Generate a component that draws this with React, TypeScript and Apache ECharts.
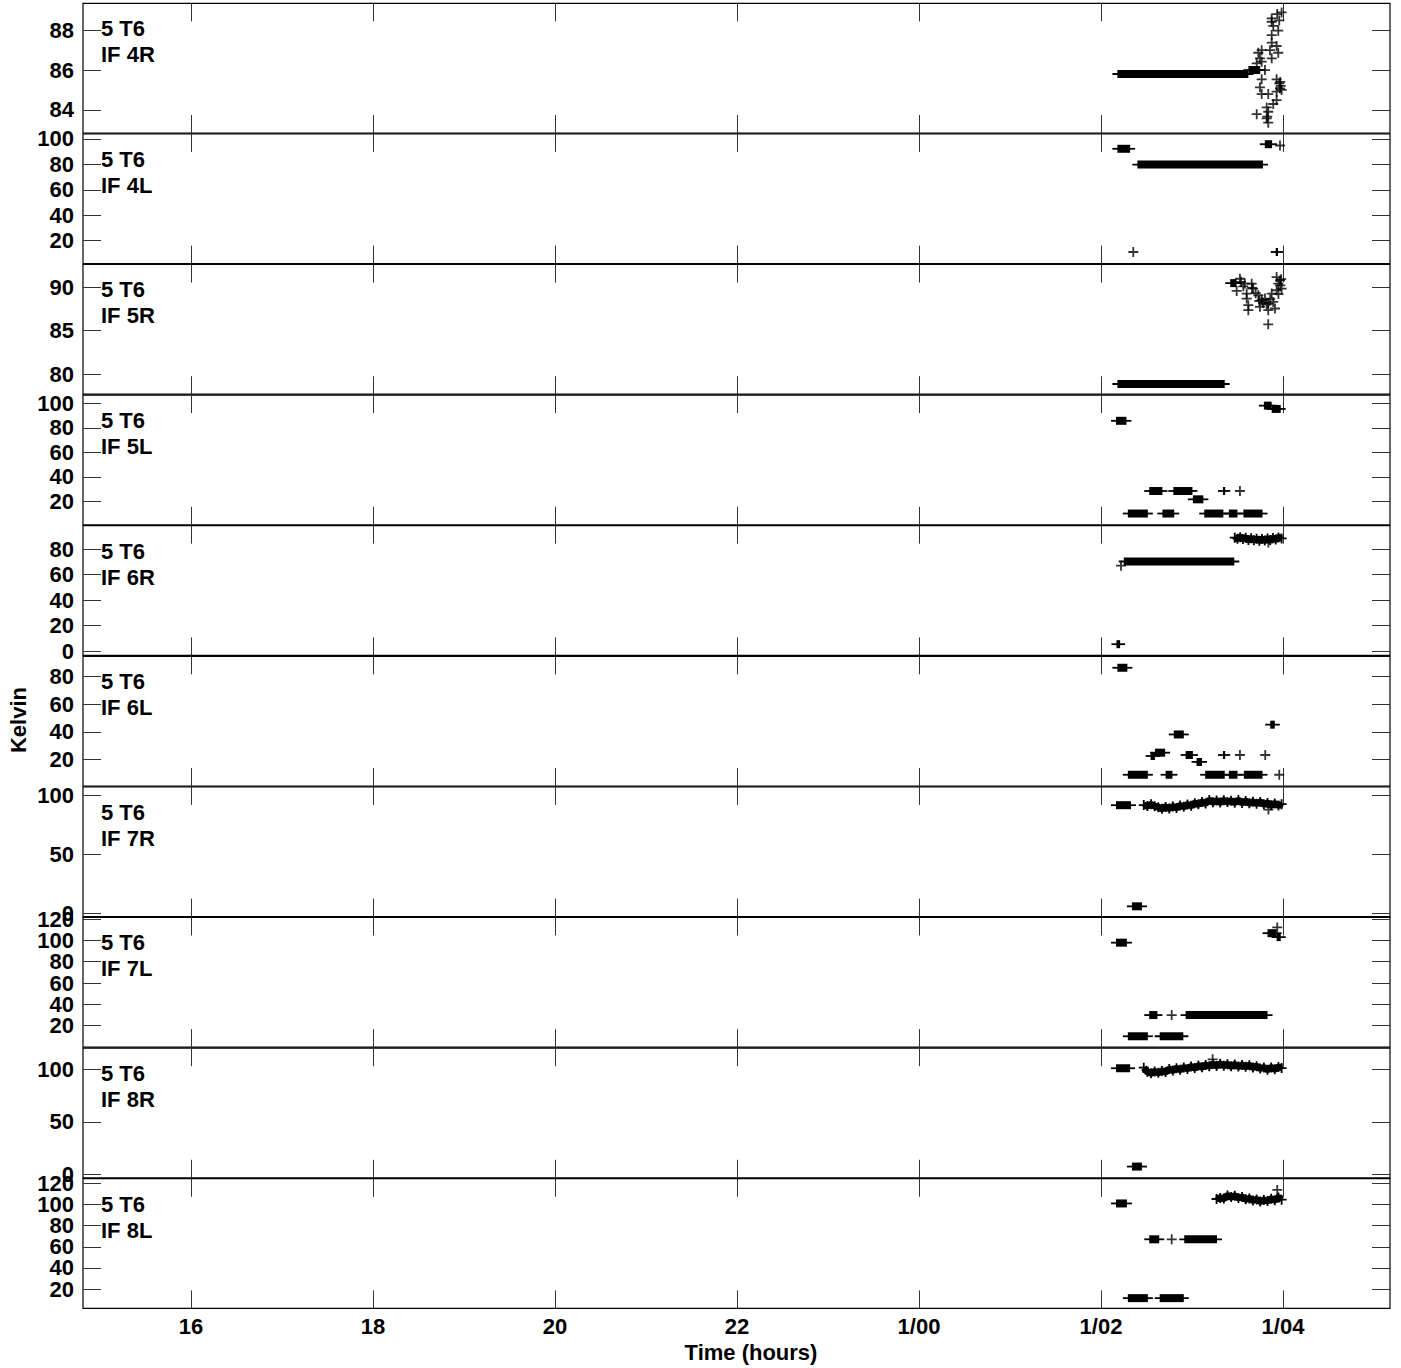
import { useEffect, useRef } from "react";
import * as echarts from "echarts";

// Time axis (hours, past 24 shown as day 1)
const timeRange = [14.813, 29.176];
const timeTicks = [16, 18, 20, 22, 24, 26, 28];
const station = "5 T6";

// runs = [start hour, end hour, kelvin]; points = [hour, kelvin]; trace = noisy run samples
const if4rRange = [82.83, 89.36];
const if4rTicks = [84, 86, 88];
const if4rRuns = [
  [26.18, 27.62, 85.8],
  [27.62, 27.75, 86.0],
];
const if4rPoints = [
  [27.937, 88.82], [27.876, 88.6], [27.876, 88.43], [27.893, 88.22], [27.948, 87.98],
  [27.876, 87.76], [27.876, 87.38], [27.93, 87.21], [27.948, 86.87], [27.857, 87.0],
  [27.766, 87.0], [27.729, 86.87], [27.747, 86.59], [27.766, 86.42], [27.876, 86.59],
  [27.711, 86.34], [27.802, 86.0], [27.766, 85.53], [27.93, 85.53], [27.959, 85.33],
  [27.967, 85.08], [27.747, 85.13], [27.93, 84.91], [27.766, 84.79], [27.838, 84.79],
  [27.93, 84.49], [27.893, 84.29], [27.821, 84.12], [27.711, 83.78], [27.838, 83.9],
  [27.827, 83.65], [27.838, 83.35], [27.821, 83.57], [27.985, 88.9], [27.959, 88.5],
  [27.97, 85.4], [27.985, 85.0], [27.975, 85.2],
];

const if4lRange = [2.0, 103.9];
const if4lTicks = [20, 40, 60, 80, 100];
const if4lRuns = [
  [26.18, 26.32, 92.2],
  [26.4, 27.78, 79.8],
  [27.8, 27.88, 95.8],
  [27.92, 27.945, 11.1],
];
const if4lPoints = [
  [27.967, 94.8],
  [26.355, 11.1],
];

const if5rRange = [77.73, 92.58];
const if5rTicks = [80, 85, 90];
const if5rRuns = [
  [26.18, 27.36, 78.9],
  [27.42, 27.49, 90.45],
];
const if5rPoints = [
  [27.527, 90.95], [27.564, 90.08], [27.491, 89.55], [27.601, 89.25], [27.656, 90.38],
  [27.673, 89.82], [27.601, 88.68], [27.619, 87.92], [27.619, 87.35], [27.729, 89.06],
  [27.766, 88.49], [27.747, 87.73], [27.802, 88.68], [27.838, 88.11], [27.838, 87.35],
  [27.912, 87.54], [27.893, 88.3], [27.876, 89.25], [27.93, 89.63], [27.948, 90.38],
  [27.93, 91.14], [27.967, 90.76], [27.985, 89.82], [27.838, 85.73], [27.54, 90.6],
  [27.58, 90.4], [27.66, 89.9], [27.7, 89.3], [27.74, 88.4], [27.78, 88.2],
  [27.82, 88.0], [27.86, 88.6], [27.95, 89.2], [27.97, 90.2], [27.98, 90.9],
];

const if5lRange = [0.8, 106.7];
const if5lTicks = [20, 40, 60, 80, 100];
const if5lRuns = [
  [26.165, 26.28, 85.7],
  [27.79, 27.876, 98.1],
  [27.876, 27.975, 95.4],
  [26.53, 26.675, 28.4],
  [26.795, 27.005, 28.4],
  [27.34, 27.365, 28.4],
  [27.01, 27.125, 21.6],
  [26.295, 26.515, 10.0],
  [26.675, 26.805, 10.0],
  [27.135, 27.345, 10.0],
  [27.405, 27.5, 10.0],
  [27.565, 27.775, 10.0],
];
const if5lPoints = [
  [27.527, 28.4],
];

const if6rRange = [-3.4, 98.4];
const if6rTicks = [0, 20, 40, 60, 80];
const if6rRuns = [
  [26.25, 27.465, 70.3],
  [26.17, 26.21, 5.4],
];
const if6rPoints = [
  [26.22, 67.0],
  [27.84, 85.2],
];
const if6rTrace = [
  [27.47, 89.0], [27.5, 88.2], [27.53, 89.4], [27.56, 88.0], [27.59, 89.0],
  [27.62, 87.2], [27.65, 88.6], [27.68, 87.0], [27.71, 88.2], [27.74, 86.6],
  [27.77, 88.0], [27.8, 86.8], [27.83, 88.4], [27.86, 87.2], [27.89, 88.8],
  [27.92, 87.6], [27.95, 89.2], [27.985, 88.4],
];

const if6lRange = [0.86, 94.8];
const if6lTicks = [20, 40, 60, 80];
const if6lRuns = [
  [26.18, 26.29, 86.5],
  [27.86, 27.91, 45.3],
  [26.8, 26.91, 38.2],
  [26.545, 26.593, 22.6],
  [26.593, 26.705, 25.0],
  [26.93, 27.01, 23.3],
  [27.05, 27.11, 18.3],
  [27.34, 27.365, 23.3],
  [26.295, 26.515, 9.0],
  [26.71, 26.785, 9.0],
  [27.145, 27.36, 9.0],
  [27.405, 27.5, 9.0],
  [27.57, 27.775, 9.0],
];
const if6lPoints = [
  [27.527, 23.3],
  [27.805, 23.3],
  [27.959, 9.0],
];

const if7rRange = [-2.5, 107.4];
const if7rTicks = [0, 50, 100];
const if7rRuns = [
  [26.165, 26.33, 91.9],
  [26.34, 26.45, 6.2],
];
const if7rPoints = [
  [27.84, 88.2],
];
const if7rTrace = [
  [26.47, 92.0], [26.51, 91.2], [26.55, 92.6], [26.59, 91.0], [26.63, 90.2],
  [26.67, 88.8], [26.71, 90.4], [26.75, 89.2], [26.79, 90.8], [26.83, 89.6],
  [26.87, 91.6], [26.91, 90.6], [26.95, 92.4], [26.99, 91.4], [27.03, 93.6],
  [27.07, 92.6], [27.11, 94.6], [27.15, 93.4], [27.19, 96.2], [27.23, 94.4],
  [27.27, 95.8], [27.31, 94.2], [27.35, 96.0], [27.39, 94.6], [27.43, 95.6],
  [27.47, 94.0], [27.51, 96.2], [27.55, 93.8], [27.59, 95.4], [27.63, 93.6],
  [27.67, 94.8], [27.71, 93.2], [27.75, 94.6], [27.79, 92.6], [27.83, 93.8],
  [27.87, 91.8], [27.91, 93.4], [27.95, 91.6], [27.985, 92.8],
];

const if7lRange = [-0.15, 121.5];
const if7lTicks = [20, 40, 60, 80, 100, 120];
const if7lRuns = [
  [26.165, 26.285, 97.9],
  [27.83, 27.93, 106.8],
  [27.93, 27.975, 103.1],
  [26.53, 26.62, 30.0],
  [26.93, 27.83, 30.0],
  [26.295, 26.515, 10.1],
  [26.645, 26.905, 10.1],
];
const if7lPoints = [
  [26.777, 30.0],
  [27.937, 112.2],
];

const if8rRange = [-3.4, 120.2];
const if8rTicks = [0, 50, 100];
const if8rRuns = [
  [26.165, 26.32, 101.0],
  [26.34, 26.45, 7.3],
];
const if8rPoints = [
  [27.227, 109.5],
];
const if8rTrace = [
  [26.47, 101.5], [26.51, 97.6], [26.55, 96.2], [26.59, 98.0], [26.63, 96.6],
  [26.67, 98.4], [26.71, 97.4], [26.75, 100.2], [26.79, 98.8], [26.83, 101.0],
  [26.87, 99.6], [26.91, 101.8], [26.95, 100.4], [26.99, 102.6], [27.03, 101.2],
  [27.07, 103.6], [27.11, 102.0], [27.15, 104.2], [27.19, 102.8], [27.23, 105.0],
  [27.27, 103.2], [27.31, 105.2], [27.35, 103.4], [27.39, 104.8], [27.43, 102.8],
  [27.47, 104.6], [27.51, 102.6], [27.55, 104.2], [27.59, 102.4], [27.63, 103.8],
  [27.67, 101.8], [27.71, 103.0], [27.75, 100.8], [27.79, 101.6], [27.83, 99.6],
  [27.87, 101.8], [27.91, 100.0], [27.95, 102.2], [27.985, 101.2],
];

const if8lRange = [1.8, 124.4];
const if8lTicks = [20, 40, 60, 80, 100, 120];
const if8lRuns = [
  [26.165, 26.285, 101.0],
  [26.53, 26.64, 67.1],
  [26.915, 27.275, 67.1],
  [26.295, 26.515, 11.5],
  [26.645, 26.91, 11.5],
];
const if8lPoints = [
  [26.777, 67.1],
  [27.937, 113.8],
];
const if8lTrace = [
  [27.27, 105.2], [27.31, 106.2], [27.35, 105.6], [27.39, 108.6], [27.43, 107.0],
  [27.47, 108.2], [27.51, 106.2], [27.55, 107.0], [27.59, 105.0], [27.63, 105.8],
  [27.67, 103.8], [27.71, 104.8], [27.75, 102.8], [27.79, 104.2], [27.83, 103.4],
  [27.87, 105.4], [27.91, 104.0], [27.95, 106.6], [27.985, 104.6],
];

const none = [] as number[][];
const panels = [
  { label: "IF 4R", range: if4rRange, ticks: if4rTicks, runs: if4rRuns, points: if4rPoints, trace: none },
  { label: "IF 4L", range: if4lRange, ticks: if4lTicks, runs: if4lRuns, points: if4lPoints, trace: none },
  { label: "IF 5R", range: if5rRange, ticks: if5rTicks, runs: if5rRuns, points: if5rPoints, trace: none },
  { label: "IF 5L", range: if5lRange, ticks: if5lTicks, runs: if5lRuns, points: if5lPoints, trace: none },
  { label: "IF 6R", range: if6rRange, ticks: if6rTicks, runs: if6rRuns, points: if6rPoints, trace: if6rTrace },
  { label: "IF 6L", range: if6lRange, ticks: if6lTicks, runs: if6lRuns, points: if6lPoints, trace: none },
  { label: "IF 7R", range: if7rRange, ticks: if7rTicks, runs: if7rRuns, points: if7rPoints, trace: if7rTrace },
  { label: "IF 7L", range: if7lRange, ticks: if7lTicks, runs: if7lRuns, points: if7lPoints, trace: none },
  { label: "IF 8R", range: if8rRange, ticks: if8rTicks, runs: if8rRuns, points: if8rPoints, trace: if8rTrace },
  { label: "IF 8L", range: if8lRange, ticks: if8lTicks, runs: if8lRuns, points: if8lPoints, trace: if8lTrace },
];

const FONT = '"Liberation Sans", Arial, Helvetica, sans-serif';
const PLUS = "path://M0,4.1H10V5.9H0Z M4.1,0H5.9V10H4.1Z";
const TOP = 3.3;
const STEP = 130.6;
const LEFT = 83;
const WIDTH = 1307;

const tickStyle = { color: "#333", width: 1 };
const labelFont = { color: "#000", fontFamily: FONT, fontWeight: "bold" as const, fontSize: 22 };

const timeLabel = (v: number) => (v < 24 ? String(v) : "1/" + String(v - 24).padStart(2, "0"));

function buildOption(): echarts.EChartsOption {
  const last = panels.length - 1;

  const grid = panels.map((_, i) => ({
    left: LEFT,
    top: TOP + i * STEP,
    width: WIDTH,
    height: STEP - 0.9,
    show: true,
    borderColor: "#000",
    borderWidth: 1.2,
    backgroundColor: "transparent",
  }));

  const xAxis = panels.flatMap((_, i) =>
    (["bottom", "top"] as const).map((pos) => ({
      type: "value" as const,
      gridIndex: i,
      position: pos,
      min: timeRange[0],
      max: timeRange[1],
      axisLine: { show: false, onZero: false },
      splitLine: { show: false },
      axisTick: { show: true, inside: true, length: 18, lineStyle: tickStyle, customValues: timeTicks },
      axisLabel: {
        show: pos === "bottom" && i === last,
        customValues: timeTicks,
        formatter: timeLabel,
        showMinLabel: true,
        showMaxLabel: true,
        margin: 7,
        ...labelFont,
      },
    }))
  );

  // Per panel: left axis (all ticks, every other label), right axis (ticks only),
  // and a second left axis carrying the remaining labels, so that ECharts does not
  // drop tightly packed labels as overlaps.
  const yAxis = panels.flatMap((p, i) => {
    const base = {
      type: "value" as const,
      gridIndex: i,
      min: p.range[0],
      max: p.range[1],
      axisLine: { show: false, onZero: false },
      splitLine: { show: false },
    };
    const labels = (vals: number[]) => ({
      show: vals.length > 0,
      customValues: vals,
      showMinLabel: true,
      showMaxLabel: true,
      hideOverlap: false,
      margin: 9,
      ...labelFont,
    });
    const even = p.ticks.filter((_, k) => k % 2 === 0);
    const odd = p.ticks.filter((_, k) => k % 2 === 1);
    return [
      {
        ...base,
        position: "left" as const,
        axisTick: { show: true, inside: true, length: 18, lineStyle: tickStyle, customValues: p.ticks },
        axisLabel: labels(even),
      },
      {
        ...base,
        position: "right" as const,
        axisTick: { show: true, inside: true, length: 18, lineStyle: tickStyle, customValues: p.ticks },
        axisLabel: { show: false },
      },
      {
        ...base,
        position: "left" as const,
        offset: 0,
        axisTick: { show: false },
        axisLabel: labels(odd),
      },
    ];
  });

  const series: any[] = [];
  panels.forEach((p, i) => {
    series.push({
      type: "custom",
      xAxisIndex: 2 * i,
      yAxisIndex: 3 * i,
      data: p.runs,
      encode: { x: [0, 1], y: 2 },
      silent: true,
      renderItem: (_params: any, api: any) => {
        const a = api.coord([api.value(0), api.value(2)]);
        const b = api.coord([api.value(1), api.value(2)]);
        return {
          type: "group",
          children: [
            {
              type: "rect",
              shape: { x: a[0], y: a[1] - 4, width: Math.max(b[0] - a[0], 1), height: 8 },
              style: { fill: "#000" },
            },
            {
              type: "line",
              shape: { x1: a[0] - 5, y1: a[1], x2: b[0] + 5, y2: a[1] },
              style: { stroke: "#000", lineWidth: 1.8 },
            },
          ],
        };
      },
    });
    if (p.trace.length) {
      series.push({
        type: "line",
        xAxisIndex: 2 * i,
        yAxisIndex: 3 * i,
        data: p.trace,
        symbol: PLUS,
        symbolSize: 10,
        showAllSymbol: true,
        lineStyle: { color: "#000", width: 7 },
        itemStyle: { color: "#000" },
        silent: true,
      });
    }
    if (p.points.length) {
      series.push({
        type: "scatter",
        xAxisIndex: 2 * i,
        yAxisIndex: 3 * i,
        data: p.points,
        symbol: PLUS,
        symbolSize: 10,
        itemStyle: { color: "#000" },
        silent: true,
      });
    }
  });

  const graphic: any[] = panels.map((p, i) => ({
    type: "text",
    x: 101,
    y: TOP + i * STEP + 12.4,
    silent: true,
    style: {
      text: station + "\n" + p.label,
      fill: "#000",
      font: "bold 22px " + FONT,
      lineHeight: 26,
      align: "left",
      verticalAlign: "top",
    },
  }));
  graphic.push({
    type: "text",
    x: 18,
    y: 720,
    rotation: Math.PI / 2,
    silent: true,
    style: { text: "Kelvin", fill: "#000", font: "bold 22px " + FONT, align: "center", verticalAlign: "middle" },
  });
  graphic.push({
    type: "text",
    x: 751,
    y: 1352,
    silent: true,
    style: { text: "Time (hours)", fill: "#000", font: "bold 22px " + FONT, align: "center", verticalAlign: "middle" },
  });

  return {
    animation: false,
    backgroundColor: "#fff",
    grid,
    xAxis,
    yAxis,
    series,
    graphic,
  };
}

export default function App() {
  const ref = useRef<HTMLDivElement | null>(null);

  useEffect(() => {
    document.body.style.margin = "0";
    if (!ref.current) return;
    const chart = echarts.init(ref.current, undefined, { renderer: "svg" });
    chart.setOption(buildOption());
    return () => chart.dispose();
  }, []);

  return <div ref={ref} style={{ position: "absolute", left: 0, top: 0, width: 1401, height: 1368 }} />;
}
